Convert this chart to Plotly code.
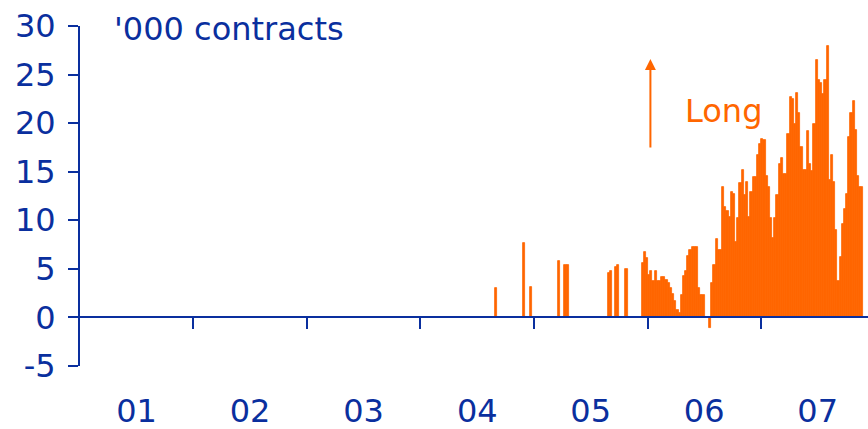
import pandas as pd
import plotly.graph_objects as go

# ---- data (thousand contracts, weekly) ----
sparse_dates = ["2004-08-31", "2004-11-30", "2004-12-21", "2005-03-22", "2005-04-12",
                "2005-04-19", "2005-08-30", "2005-09-06", "2005-09-20", "2005-09-27",
                "2005-10-25"]
sparse_values = [3.0, 7.7, 3.1, 5.8, 5.4, 5.4, 4.6, 4.8, 5.2, 5.4, 5.0]

dense_start = "2005-12-16"
dense_values = [
    5.6, 6.7, 6.1, 4.4, 4.8, 3.7, 4.8, 3.7, 3.7, 4.2, 4.2, 3.9, 3.5, 3.0, 2.4, 1.7,
    0.8, 0.45, 2.3, 4.3, 4.8, 6.3, 6.9, 7.3, 7.3, 7.3, 3.0, 2.3, 2.3, 0, 0, -1.1,
    3.5, 5.4, 8.1, 6.9, 6.9, 13.4, 11.4, 11.0, 10.3, 12.9, 12.7, 7.8, 10.2, 13.8,
    15.2, 12.6, 13.9, 10.3, 12.9, 14.5, 14.5, 16.7, 17.9, 18.4, 18.3, 14.6, 13.4,
    10.2, 8.2, 10.2, 12.6, 15.8, 16.4, 14.8, 14.8, 18.9, 22.7, 22.5, 19.9, 23.1,
    21.0, 17.5, 15.2, 15.2, 19.2, 15.8, 15.1, 19.9, 26.5, 24.4, 24.1, 23.0, 24.4,
    27.9, 14.1, 16.7, 13.9, 9.0, 3.8, 6.2, 9.6, 11.2, 12.7, 18.6, 21.0, 22.3, 19.3,
    14.6, 13.4, 13.4,
]
dense_dates = pd.date_range(dense_start, periods=len(dense_values), freq="7D")

year_labels = ["01", "02", "03", "04", "05", "06", "07"]
year_mid = [f"{2001 + i}-07-02" for i in range(len(year_labels))]
year_bounds = [f"{2002 + i}-01-01" for i in range(6)]
y_ticks = [-5, 0, 5, 10, 15, 20, 25, 30]
y_ticktext = ["-5", "0", "5", "10", "15", "20", "25", "30"]

BLUE = "#0a2f9e"
ORANGE = "#ff6600"
FONT = "DejaVu Sans"
FS = 32
WEEK_MS = 7 * 24 * 3600 * 1000
X_RANGE = ["2001-01-01", "2007-12-11"]

bar_marker = dict(color=ORANGE, line=dict(width=0.8, color=ORANGE))

fig = go.Figure()
fig.add_trace(go.Bar(x=pd.to_datetime(sparse_dates), y=sparse_values, width=WEEK_MS,
                     marker=bar_marker, showlegend=False))
fig.add_trace(go.Bar(x=dense_dates, y=dense_values, width=WEEK_MS,
                     marker=bar_marker, showlegend=False))
# carrier for the bottom year-label axis (no visible marks)
fig.add_trace(go.Scatter(x=pd.to_datetime(year_mid), y=[None] * len(year_mid),
                         xaxis="x2", yaxis="y", mode="markers", showlegend=False,
                         hoverinfo="skip"))

fig.update_layout(
    width=868, height=429,
    margin=dict(l=80, r=0, t=26, b=63, autoexpand=False),
    paper_bgcolor="white", plot_bgcolor="white",
    bargap=0,
    font=dict(family=FONT, size=FS, color=BLUE),
    xaxis=dict(
        type="date", range=X_RANGE, anchor="free", position=5 / 35,
        showline=True, linecolor=BLUE, linewidth=2,
        ticks="outside", ticklen=11, tickwidth=2, tickcolor=BLUE,
        tickvals=year_bounds, showticklabels=False,
        showgrid=False, zeroline=False, automargin=False,
    ),
    xaxis2=dict(
        type="date", range=X_RANGE, overlaying="x", anchor="y", side="bottom",
        showline=False, ticks="", tickvals=year_mid, ticktext=year_labels,
        tickfont=dict(family=FONT, size=FS, color=BLUE),
        ticklabelstandoff=23, showgrid=False, zeroline=False, automargin=False,
    ),
    yaxis=dict(
        range=[-5, 30], tickvals=y_ticks, ticktext=y_ticktext,
        showline=True, linecolor=BLUE, linewidth=2,
        ticks="outside", ticklen=10, tickwidth=2, tickcolor=BLUE,
        tickfont=dict(family=FONT, size=FS, color=BLUE),
        ticklabelstandoff=6,
        showgrid=False, zeroline=False, automargin=False,
    ),
    annotations=[
        dict(text="'000 contracts", xref="paper", yref="paper",
             x=(112 - 80) / 788, y=(366 - 29) / 340, xanchor="left", yanchor="middle",
             showarrow=False, font=dict(family=FONT, size=FS, color=BLUE)),
        dict(text="Long", xref="paper", yref="paper",
             x=(683 - 80) / 788, y=(366 - 111) / 340, xanchor="left", yanchor="middle",
             showarrow=False, font=dict(family=FONT, size=FS, color=ORANGE)),
        dict(text="", xref="x", yref="y", x="2006-01-10", y=26.6,
             showarrow=True, ax=0, ay=90, arrowhead=2, arrowsize=1.1,
             arrowwidth=2, arrowcolor=ORANGE, standoff=0, startstandoff=0),
    ],
)

fig.write_html("out.html", config={"displayModeBar": False},
               post_script="document.body.style.margin='0px';")
